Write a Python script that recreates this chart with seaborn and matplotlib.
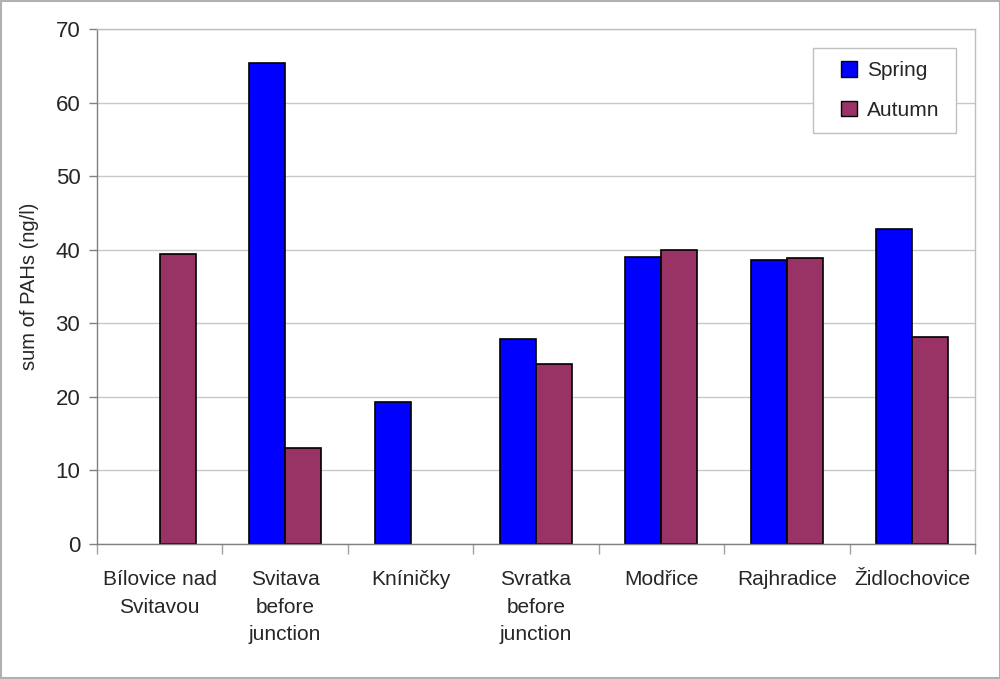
import numpy as np
import pandas as pd
import seaborn as sns
import matplotlib.pyplot as plt
from matplotlib.patches import Rectangle

# data
sites = ["Bílovice nad\nSvitavou", "Svitava\nbefore\njunction", "Kníničky",
         "Svratka\nbefore\njunction", "Modřice", "Rajhradice", "Židlochovice"]
spring = [np.nan, 65.4, 19.3, 27.9, 39.0, 38.6, 42.8]
autumn = [39.4, 13.0, np.nan, 24.5, 40.0, 38.9, 28.2]
seasons = ["Spring", "Autumn"]
yticks = [0, 10, 20, 30, 40, 50, 60, 70]

df = pd.DataFrame({
    "site": sites * 2,
    "season": ["Spring"] * len(sites) + ["Autumn"] * len(sites),
    "value": spring + autumn,
})

sns.set_style("white")
plt.rcParams["font.family"] = ["Liberation Sans", "DejaVu Sans"]

fig = plt.figure(figsize=(10, 6.79), dpi=100)
ax = fig.add_axes([0.097, 0.1988, 0.878, 0.758])

sns.barplot(
    data=df, x="site", y="value", hue="season",
    order=sites, hue_order=seasons,
    palette={"Spring": "#0000FF", "Autumn": "#993366"},
    width=0.574, gap=0, edgecolor="black", linewidth=1.2,
    saturation=1, ax=ax, legend=True,
)

ax.set_ylim(0, 70)
ax.set_xlim(-0.5, len(sites) - 0.5)
ax.set_yticks(yticks)
ax.yaxis.grid(True, color="#c8c8c8", linewidth=1)
ax.set_axisbelow(True)

ax.set_xlabel("")
ax.set_ylabel("sum of PAHs (ng/l)", fontsize=14.5, labelpad=12)
ax.tick_params(axis="y", labelsize=16, length=6, width=1, color="#808080",
               left=True, pad=6)
ax.tick_params(axis="x", labelsize=15, length=0, pad=19)
for lbl in ax.get_xticklabels():
    lbl.set_linespacing(1.55)

# category boundary ticks under the axis
ax.set_xticks(np.arange(-0.5, len(sites), 1.0), minor=True)
ax.tick_params(axis="x", which="minor", length=7, width=1, color="#a0a0a0",
               bottom=True)

for side in ["top", "right"]:
    ax.spines[side].set_visible(True)
    ax.spines[side].set_color("#c0c0c0")
ax.spines["left"].set_color("#808080")
ax.spines["bottom"].set_color("#808080")
for sp in ax.spines.values():
    sp.set_linewidth(1)

# legend without its own frame, boxed separately like the Excel original
leg = ax.legend(title=None, loc="center left", bbox_to_anchor=(0.8474, 0.881),
                borderaxespad=0, borderpad=0, fontsize=15, handlelength=0.75,
                handleheight=0.75, labelspacing=1.0, handletextpad=0.5,
                frameon=False)
for h in leg.legend_handles:
    h.set_edgecolor("black")
    h.set_linewidth(1)
ax.add_patch(Rectangle((0.8155, 0.7985), 0.1625, 0.1652, transform=ax.transAxes,
                       facecolor="white", edgecolor="#c0c0c0", linewidth=1,
                       zorder=4))
leg.set_zorder(5)

fig.patches.append(Rectangle((0.0005, 0.001), 0.999, 0.998, transform=fig.transFigure,
                             fill=False, edgecolor="#b0b0b0", linewidth=1.5))

fig.savefig("out.png", dpi=100)
